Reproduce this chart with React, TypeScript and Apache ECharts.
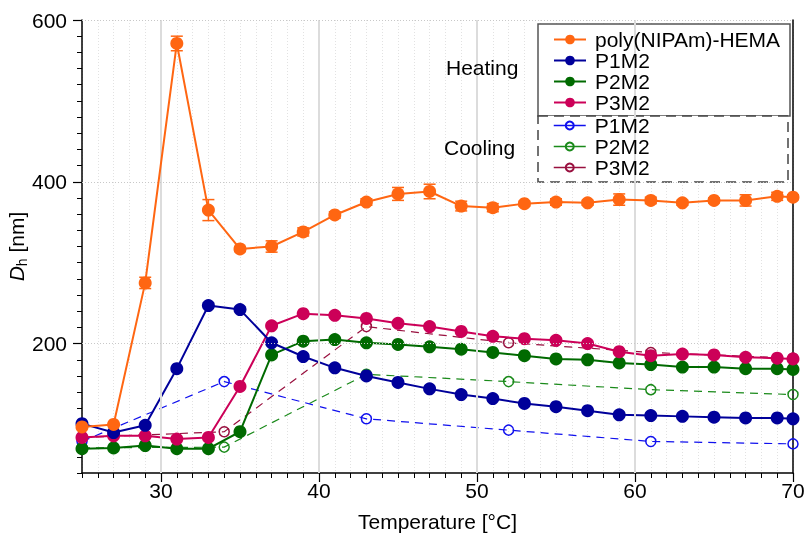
import React, { useEffect, useRef } from 'react';
import * as echarts from 'echarts';

const heatTemps = [25, 27, 29, 31, 33, 35, 37, 39, 41, 43, 45, 47, 49, 51, 53, 55, 57, 59, 61, 63, 65, 67, 69, 70];
const polyHeat = [97, 100, 275, 571, 365, 317, 320, 338, 359, 375, 385, 388, 370, 368, 373, 375, 374, 378, 377, 374, 377, 377, 382, 381];
const polyErr = [0, 0, 7, 9, 13, 3, 7, 5, 4, 4, 8, 9, 6, 5, 3, 4, 3, 7, 4, 3, 3, 7, 5, 3];
const p1Heat = [101, 90, 99, 169, 247, 242, 201, 184, 170, 160, 152, 144, 137, 132, 126, 122, 117, 112, 111, 110, 109, 108, 108, 107];
const p2Heat = [70, 71, 74, 70, 70, 91, 186, 203, 205, 201, 199, 196, 193, 189, 185, 181, 180, 176, 174, 171, 171, 169, 169, 168];
const p3Heat = [84, 86, 86, 82, 84, 147, 222, 237, 235, 231, 225, 221, 215, 209, 206, 204, 200, 190, 185, 187, 186, 183, 182, 181];

const coolTemps = [25, 34, 43, 52, 61, 70];
const p1Cool = [79, 153, 107, 93, 79, 76];
const p2Cool = [71, 72, 162, 153, 143, 137];
const p3Cool = [84, 91, 221, 201, 189, 182];

const xMajorTicks = [30, 40, 50, 60, 70];
const yMajorTicks = [200, 400, 600];

const FONT = 'Liberation Sans, Arial, Helvetica, sans-serif';
const ORANGE = '#ff6612';
const NAVY = '#00009a';
const GREEN = '#006a00';
const PINK = '#cc0058';
const BLUE_C = '#1010ee';
const GREEN_C = '#1a8a1a';
const MAROON_C = '#99103f';

export default function App() {
  const ref = useRef<HTMLDivElement>(null);
  useEffect(() => {
    const chart = echarts.init(ref.current!, null, { renderer: 'svg' });
    const pair = (xs: number[], ys: number[]) => xs.map((x, i) => [x, ys[i]]);
    const heatSeries = (name: string, color: string, ys: number[], z: number) => ({
      name,
      type: 'line',
      data: pair(heatTemps, ys),
      symbol: 'circle',
      symbolSize: 13,
      color,
      lineStyle: { color, width: 2 },
      itemStyle: { color },
      z,
    });
    const coolSeries = (name: string, color: string, ys: number[]) => ({
      name,
      type: 'line',
      data: pair(coolTemps, ys),
      symbol: 'circle',
      symbolSize: 10,
      color,
      lineStyle: { color, width: 1.2, type: [8, 6] },
      itemStyle: { color: 'rgba(255,255,255,0)', borderColor: color, borderWidth: 1.5 },
      z: 2,
    });
    const gridMarks = [
      ...xMajorTicks.slice(0, 4).map((v) => ({ xAxis: v, lineStyle: { color: '#dcdcdc', width: 2, type: 'solid' } })),
      ...yMajorTicks.map((v) => ({ yAxis: v, lineStyle: { color: '#c8c8c8', width: 1, type: [1, 2] } })),
    ];
    const option: any = {
      animation: false,
      textStyle: { fontFamily: FONT },
      grid: { left: 82, right: 14, top: 20, bottom: 61, containLabel: false, outerBoundsMode: 'none' },
      xAxis: [
        {
          type: 'value', min: 25, max: 70, interval: 1,
          axisLine: { show: true, onZero: false, lineStyle: { color: '#000', width: 1.5 } },
          axisTick: { show: true, length: 5, lineStyle: { color: '#000', width: 1 } },
          axisLabel: { show: false },
          splitLine: { show: true, lineStyle: { color: '#e2e2e2', width: 1, type: [1, 2] } },
        },
        {
          type: 'value', min: 25, max: 70, position: 'bottom', nameMoveOverlap: false,
          axisLine: { show: false, onZero: false },
          axisTick: { show: true, length: 9, customValues: xMajorTicks, lineStyle: { color: '#000', width: 1.2 } },
          axisLabel: { show: true, customValues: xMajorTicks, fontSize: 21, color: '#000', margin: 7, fontFamily: FONT },
          splitLine: { show: false },
          name: 'Temperature [°C]', nameLocation: 'middle', nameGap: 38,
          nameTextStyle: { fontSize: 21, color: '#000', fontFamily: FONT },
        },
      ],
      yAxis: [
        {
          type: 'value', min: 40, max: 600, interval: 20, position: 'left',
          axisLine: { show: true, onZero: false, lineStyle: { color: '#000', width: 1.5 } },
          axisTick: { show: true, length: 5, lineStyle: { color: '#000', width: 1 } },
          axisLabel: { show: false },
          splitLine: { show: false },
        },
        {
          type: 'value', min: 40, max: 600, position: 'left', nameMoveOverlap: false,
          axisLine: { show: false, onZero: false },
          axisTick: { show: true, length: 9, customValues: yMajorTicks, lineStyle: { color: '#000', width: 1.2 } },
          axisLabel: { show: true, customValues: yMajorTicks, fontSize: 21, color: '#000', margin: 15, fontFamily: FONT },
          splitLine: { show: false },
          name: '{i|D}{s|h} [nm]', nameLocation: 'middle', nameGap: 53, nameRotate: 90,
          nameTextStyle: {
            fontSize: 21, color: '#000', fontFamily: FONT,
            rich: {
              i: { fontStyle: 'italic', fontSize: 21, fontFamily: FONT, lineHeight: 26 },
              s: { fontSize: 14, fontFamily: FONT, lineHeight: 14, verticalAlign: 'bottom' },
            },
          },
        },
        {
          type: 'value', min: 40, max: 600, position: 'right',
          axisLine: { show: true, onZero: false, lineStyle: { color: '#000', width: 1.5 } },
          axisTick: { show: false }, axisLabel: { show: false }, splitLine: { show: false },
        },
      ],
      legend: [
        {
          data: ['poly(NIPAm)-HEMA', 'P1M2', 'P2M2', 'P3M2'],
          orient: 'vertical', left: 553, top: 29, padding: 0, itemGap: 0,
          itemWidth: 32, itemHeight: 12, z: 6,
          lineStyle: { type: 'solid', width: 2 },
          textStyle: { fontSize: 21, color: '#000', lineHeight: 21, fontFamily: FONT, padding: [0, 0, 0, 4] },
        },
        {
          data: ['P1M2 ', 'P2M2 ', 'P3M2 '],
          formatter: (n: string) => n.trim(),
          orient: 'vertical', left: 553, top: 115, padding: 0, itemGap: 0,
          itemWidth: 32, itemHeight: 10, z: 6,
          lineStyle: { type: 'solid', width: 1.5 },
          textStyle: { fontSize: 21, color: '#000', lineHeight: 21, fontFamily: FONT, padding: [0, 0, 0, 4] },
        },
      ],
      graphic: [
        { type: 'rect', z: 3, shape: { x: 538, y: 24, width: 252, height: 92 }, style: { fill: '#fff', stroke: '#555', lineWidth: 1.5 } },
        { type: 'rect', z: 3, shape: { x: 538, y: 116, width: 250, height: 66 }, style: { fill: '#fff', stroke: '#444', lineWidth: 1.5, lineDash: [10, 6] } },
        { type: 'text', z: 6, x: 446, y: 67, style: { text: 'Heating', font: '21px ' + FONT, fill: '#000', verticalAlign: 'middle' } },
        { type: 'text', z: 6, x: 444, y: 147, style: { text: 'Cooling', font: '21px ' + FONT, fill: '#000', verticalAlign: 'middle' } },
      ],
      series: [
        {
          name: 'grid', type: 'line', data: [], z: 1, silent: true,
          markLine: { silent: true, symbol: 'none', label: { show: false }, data: gridMarks, animation: false },
        },
        coolSeries('P2M2 ', GREEN_C, p2Cool),
        coolSeries('P3M2 ', MAROON_C, p3Cool),
        coolSeries('P1M2 ', BLUE_C, p1Cool),
        heatSeries('P2M2', GREEN, p2Heat, 3),
        heatSeries('P3M2', PINK, p3Heat, 3),
        heatSeries('P1M2', NAVY, p1Heat, 3),
        {
          name: 'err', type: 'custom', z: 4, silent: true,
          data: heatTemps.map((t, i) => [t, polyHeat[i] - polyErr[i], polyHeat[i] + polyErr[i]]),
          renderItem: (params: any, api: any) => {
            const x = api.value(0);
            const lo = api.coord([x, api.value(1)]);
            const hi = api.coord([x, api.value(2)]);
            const w = 6;
            const st = { stroke: ORANGE, lineWidth: 1.5 };
            return {
              type: 'group',
              children: [
                { type: 'line', shape: { x1: lo[0], y1: lo[1], x2: hi[0], y2: hi[1] }, style: st },
                { type: 'line', shape: { x1: lo[0] - w, y1: lo[1], x2: lo[0] + w, y2: lo[1] }, style: st },
                { type: 'line', shape: { x1: hi[0] - w, y1: hi[1], x2: hi[0] + w, y2: hi[1] }, style: st },
              ],
            };
          },
        },
        heatSeries('poly(NIPAm)-HEMA', ORANGE, polyHeat, 5),
      ],
    };
    chart.setOption(option);
    return () => chart.dispose();
  }, []);
  return <div ref={ref} style={{ position: 'fixed', left: 0, top: 0, width: 807, height: 534 }} />;
}
